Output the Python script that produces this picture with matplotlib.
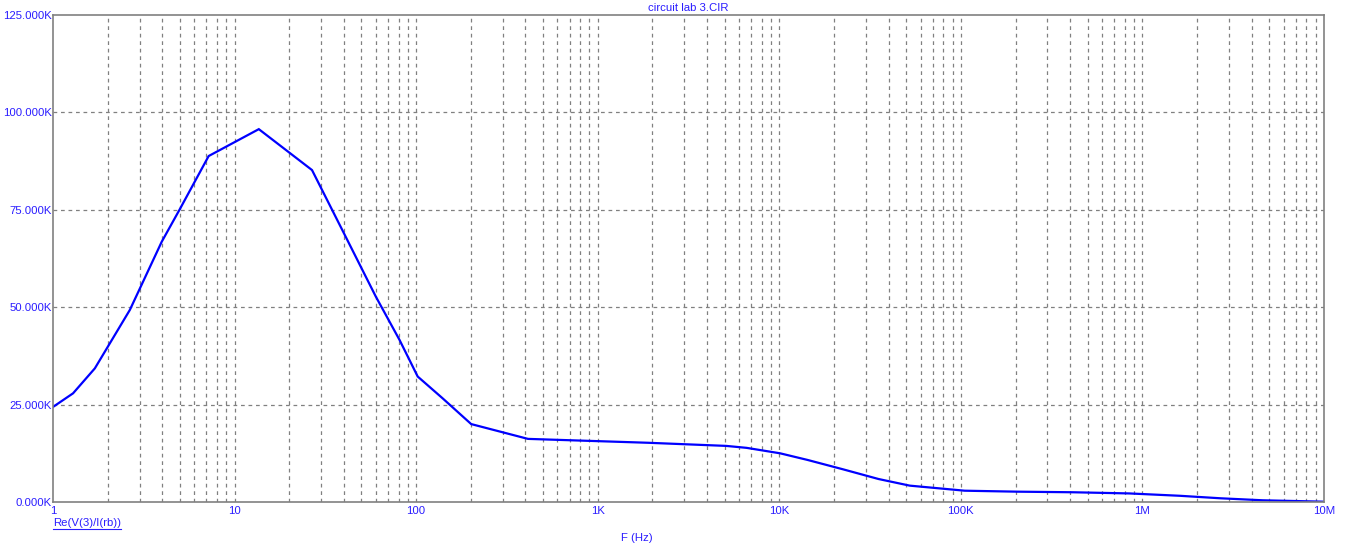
import matplotlib
matplotlib.use('Agg')
from matplotlib import pyplot as plt
from matplotlib.lines import Line2D
import numpy as np

# Frequency sweep (Hz) and Re(V(3)/I(rb)) (ohms)
freq = [1, 1.29, 1.7, 2.65, 3.97, 5.0, 7.2, 13.6, 26.7, 40, 60, 81, 102, 140,
        201, 413, 1900, 5100, 6600, 10100, 14300, 22400, 35200, 52300,
        105000, 205000, 414000, 845000, 1.6e6, 2.7e6, 4.6e6, 1e7]
re_z = [24400, 27900, 34300, 49300, 66800, 75200, 88800, 95700, 85200, 69000,
        52700, 41600, 32200, 26600, 20000, 16200, 15200, 14400, 13900, 12500,
        10800, 8400, 5900, 4200, 2900, 2650, 2500, 2200, 1600, 950, 440, 80]

xticks = [1, 10, 100, 1e3, 1e4, 1e5, 1e6, 1e7]
xticklabels = ['1', '10', '100', '1K', '10K', '100K', '1M', '10M']
yticks = [0, 25000, 50000, 75000, 100000, 125000]

title = 'circuit lab 3.CIR'
xlabel = 'F (Hz)'
trace_name = 'Re(V(3)/I(rb))'

plt.rcParams['font.family'] = ['Liberation Sans', 'DejaVu Sans']
txt_color = '#2a1cff'
grid_color = '#808080'

W, H = 1353, 550
fig = plt.figure(figsize=(W / 100, H / 100), dpi=100)
ax = fig.add_axes([53 / W, (H - 502) / H, 1271 / W, 487 / H])

ax.plot(freq, re_z, color='#0000ff', lw=1.6, solid_joinstyle='miter')

ax.set_xscale('log')
ax.set_xlim(1, 1e7)
ax.set_ylim(0, 125000)

# grid at every 1..9 multiple of each decade
vgrid = [m * 10 ** d for d in range(7) for m in range(1, 10)][1:]
for v in vgrid:
    ax.axvline(v, color=grid_color, lw=0.9, ls=(0, (3, 3)), zorder=0)
for v in yticks[1:-1]:
    ax.axhline(v, color=grid_color, lw=0.9, ls=(0, (3, 3)), zorder=0)

ax.set_xticks(xticks)
ax.set_xticklabels(xticklabels)
ax.xaxis.set_minor_locator(matplotlib.ticker.NullLocator())
ax.set_yticks(yticks)
ax.set_yticklabels(['%.3fK' % (v / 1000) for v in yticks])
ax.tick_params(axis='both', length=0, labelsize=8.2, labelcolor=txt_color)
ax.tick_params(axis='x', pad=3)
ax.tick_params(axis='y', pad=1)

for s in ax.spines.values():
    s.set_color(grid_color)
    s.set_linewidth(1.2)

fig.text(688.5 / W, 1 - 8 / H, title, ha='center', va='center',
         fontsize=8.2, color=txt_color)
fig.text(637 / W, 1 - 538 / H, xlabel, ha='center', va='center',
         fontsize=8.2, color=txt_color)
t = fig.text(53 / W, 1 - 523 / H, trace_name, ha='left', va='center',
             fontsize=8.2, color=txt_color)

# underline the trace name
fig.canvas.draw()
bb = t.get_window_extent()
fig.add_artist(Line2D([bb.x0 / W, bb.x1 / W], [(bb.y0 - 0.5) / H] * 2,
                      color=txt_color, lw=0.8))

fig.savefig('out.png', dpi=100)
